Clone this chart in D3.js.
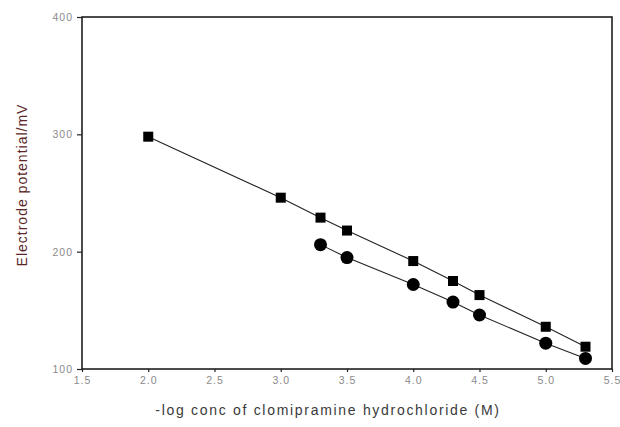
<!DOCTYPE html>
<html>
<head>
<meta charset="utf-8">
<script src="https://cdn.jsdelivr.net/npm/d3@7"></script>
<style>
	body { margin: 0; background: #fff; }
	text { font-family: "Liberation Sans", Arial, sans-serif; }
</style>
</head>
<body>
<div id="chart"></div>
<script>
// readings taken off the figure
var squareX = [2.0, 3.0, 3.3, 3.5, 4.0, 4.3, 4.5, 5.0, 5.3];
var squareY = [298, 246, 229, 218, 192, 175, 163, 136, 119];
var circleX = [3.3, 3.5, 4.0, 4.3, 4.5, 5.0, 5.3];
var circleY = [206, 195, 172, 157, 146, 122, 109];
var xTicks = [1.5, 2.0, 2.5, 3.0, 3.5, 4.0, 4.5, 5.0, 5.5];
var yTicks = [100, 200, 300, 400];

var width = 620;
var height = 427;
var margin = {top: 17, right: 8, bottom: 58, left: 82};

var svg = d3.select('#chart')
	.append('svg')
	.attr('width', width)
	.attr('height', height);

var x = d3.scaleLinear().domain([1.5, 5.5]).range([margin.left, width - margin.right]);
var y = d3.scaleLinear().domain([100, 400]).range([height - margin.bottom, margin.top]);

// frame
svg.append('rect')
	.attr('x', x(1.5))
	.attr('y', y(400))
	.attr('width', x(5.5) - x(1.5))
	.attr('height', y(100) - y(400))
	.attr('fill', 'none')
	.attr('stroke', '#111')
	.attr('stroke-width', 1.5);

var xAxis = svg.append('g')
	.attr('transform', 'translate(0,' + y(100) + ')')
	.call(d3.axisBottom(x).tickValues(xTicks).tickFormat(d3.format('.1f')).tickSize(3).tickPadding(5));

var yAxis = svg.append('g')
	.attr('transform', 'translate(' + x(1.5) + ',0)')
	.call(d3.axisLeft(y).tickValues(yTicks).tickSize(5).tickPadding(4));

[xAxis, yAxis].forEach(function(g) {
	g.select('.domain').remove();
	g.selectAll('line').attr('stroke', '#222').attr('stroke-width', 1.2);
	g.selectAll('text')
		.attr('fill', '#8a8a8a')
		.style('font-size', '10.5px')
		.style('letter-spacing', '1px');
});

var line = d3.line()
	.x(function(d) { return x(d[0]); })
	.y(function(d) { return y(d[1]); });

var squares = squareX.map(function(v, i) { return [v, squareY[i]]; });
var circles = circleX.map(function(v, i) { return [v, circleY[i]]; });

svg.append('path').datum(squares).attr('d', line)
	.attr('fill', 'none').attr('stroke', '#222').attr('stroke-width', 1.1);
svg.append('path').datum(circles).attr('d', line)
	.attr('fill', 'none').attr('stroke', '#222').attr('stroke-width', 1.1);

svg.selectAll('.sq').data(squares).enter()
	.append('rect')
	.attr('class', 'sq')
	.attr('x', function(d) { return x(d[0]) - 5; })
	.attr('y', function(d) { return y(d[1]) - 5; })
	.attr('width', 10)
	.attr('height', 10)
	.attr('fill', '#000');

svg.selectAll('.ci').data(circles).enter()
	.append('circle')
	.attr('class', 'ci')
	.attr('cx', function(d) { return x(d[0]); })
	.attr('cy', function(d) { return y(d[1]); })
	.attr('r', 6.5)
	.attr('fill', '#000');

// axis titles
svg.append('text')
	.attr('x', 328)
	.attr('y', 415)
	.attr('text-anchor', 'middle')
	.attr('fill', '#3a3a3a')
	.style('font-size', '14px')
	.style('letter-spacing', '1.7px')
	.text('-log conc of clomipramine hydrochloride (M)');

svg.append('text')
	.attr('transform', 'translate(27,185) rotate(-90)')
	.attr('text-anchor', 'middle')
	.attr('fill', '#5a2626')
	.style('font-size', '14px')
	.style('letter-spacing', '1px')
	.text('Electrode potential/mV');
</script>
</body>
</html>
